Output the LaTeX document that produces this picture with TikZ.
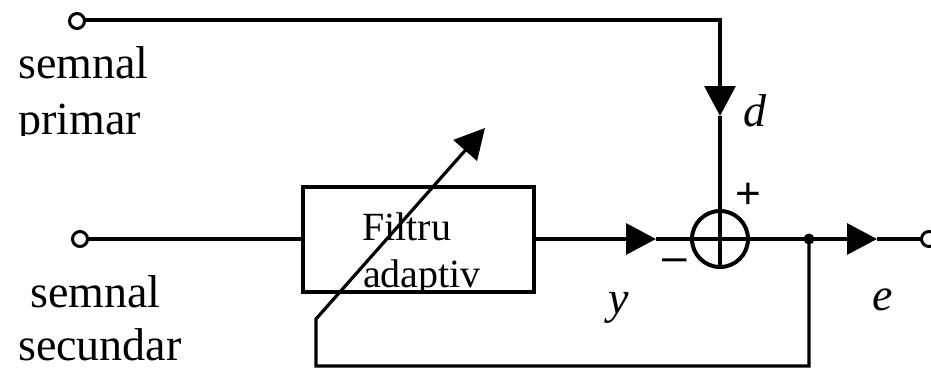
\documentclass[tikz,border=0pt]{standalone}
\usepackage{fontspec}
\setmainfont{Liberation Serif}
\newfontfamily\signfont{Liberation Sans}
\usetikzlibrary{arrows.meta}
\begin{document}
\begin{tikzpicture}[x=1pt,y=-1pt,
  wire/.style={line width=3.2pt},
  flow/.style={wire,-{Triangle[length=30pt,width=31pt]}},
  term/.style={circle,draw,line width=3pt,minimum size=15pt,inner sep=0pt,fill=white},
  lbl/.style={inner sep=0pt,anchor=base west,font=\fontsize{46}{46}\selectfont},
  var/.style={inner sep=0pt,anchor=base west,font=\fontsize{46}{46}\selectfont\itshape},
  ftxt/.style={inner sep=0pt,anchor=base west,font=\fontsize{40}{40}\selectfont},
  sign/.style={inner sep=0pt,font=\signfont\fontsize{44}{44}\selectfont},
  block/.style={draw,line width=3.2pt,minimum width=231pt,minimum height=105pt,inner sep=0pt},
  summer/.style={circle,draw,line width=4pt,minimum size=56pt,inner sep=0pt},
]
\useasboundingbox (0,0) rectangle (931,369);

% blocks
\node[block] (filt) at (418.5,239.5) {};
\node[summer] (sum) at (720,239) {};
\draw[line width=4pt] (sum.north) -- (sum.south) (sum.west) -- (sum.east);

% corner and arrow points
\coordinate (tr) at (720,20);
\coordinate (dtip) at (720,116);
\coordinate (ytip) at (656,239);
\coordinate (etip) at (877,239);
\coordinate (jn) at (809,239);
\coordinate (fbr) at (809,366);
\coordinate (fbl) at (316,366);
\coordinate (fk) at (316,319);
\coordinate (atip) at (485,128);

% labels inside the filter block
\begin{scope}
  \clip (filt.south west) rectangle (filt.north east);
  \node[ftxt] (f1) at (362,240) {Filtru};
  \node[ftxt] (f2) at (363,287) {adaptiv};
\end{scope}

% signal wires
\draw[flow] (77,21) ++(7.5,-1) coordinate (inAe) (inAe) -- (tr) -- (dtip);
\draw[wire] (dtip) -- (sum.north);
\draw[wire] (80,239) ++(7.5,0) coordinate (inBe) (inBe) -- (filt.west |- inBe);
\draw[flow] (filt.east |- ytip) -- (ytip);
\draw[wire] (ytip) -- (sum.west);
\draw[wire] (sum.east) -- (jn);
\draw[flow] (jn) -- (etip);
\draw[wire] (etip) -- (920.5,239);
\draw[flow] (jn) -- (fbr) -- (fbl) -- (fk) -- (atip);
\fill (jn) circle (5.5pt);

% terminals
\node[term] (inA) at (77,21) {};
\node[term] (inB) at (80,239) {};
\node[term] (out) at (929,239) {};

% text
\node[lbl] (sp1) at (18,78) {semnal};
\begin{scope}
  \clip (0,100) rectangle (300,135);
  \node[lbl] (sp2) at (18,134) {primar};
\end{scope}
\node[lbl] (ss1) at (30,307) {semnal};
\node[lbl] (ss2) at (18,360) {secundar};
\node[var] (ld) at (743,126) {d};
\node[var] (ly) at (608,313) {y};
\node[var] (le) at (872,310) {e};
\node[sign] (plus) at (748,196) {+};
\node[sign] (minus) at (675,265) {–};
\end{tikzpicture}
\end{document}
